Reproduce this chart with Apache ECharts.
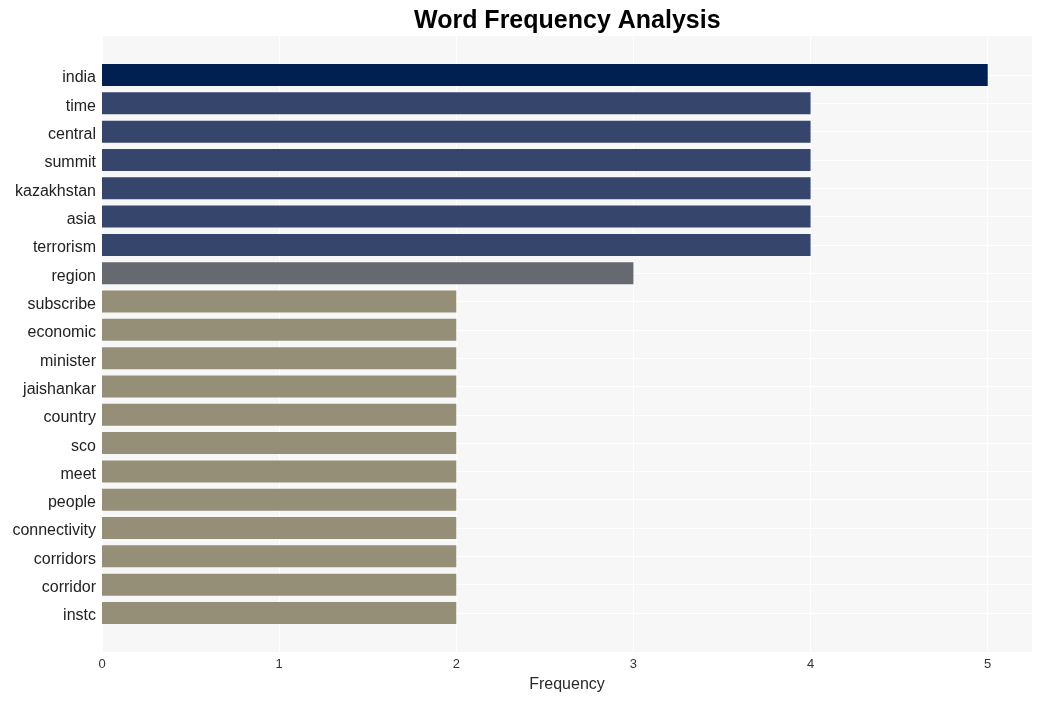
<!DOCTYPE html>
<html>
<head>
<meta charset="utf-8">
<script src="https://cdn.jsdelivr.net/npm/echarts@6/dist/echarts.min.js"></script>
<style>html,body{margin:0;padding:0;background:#fff}#c{width:1041px;height:701px}</style>
</head>
<body>
<div id="c"></div>
<script>
var categories = ["india","time","central","summit","kazakhstan","asia","terrorism","region","subscribe","economic","minister","jaishankar","country","sco","meet","people","connectivity","corridors","corridor","instc"];
var values = [5,4,4,4,4,4,4,3,2,2,2,2,2,2,2,2,2,2,2,2];
var xTicks = [0,1,2,3,4,5];
var colorByValue = {5:"#002051",4:"#35456c",3:"#676970",2:"#958f78"};

var chart = echarts.init(document.getElementById('c'));
chart.setOption({
  animation: false,
  title: {
    text: "Word Frequency Analysis",
    left: 409, top: 4,
    textStyle: {fontFamily: "Liberation Sans, Arial, sans-serif", fontSize: 25, fontWeight: "bold", color: "#000"}
  },
  grid: [
    {left: 102, right: 9, top: 36, bottom: 49, show: true, backgroundColor: "#f7f7f7", borderWidth: 0, containLabel: false},
    {left: 102, right: 9, top: 75, bottom: 88, containLabel: false}
  ],
  xAxis: [
    {gridIndex: 0, type: "value", min: 0, max: 5.25, interval: 1,
     axisLine: {show: false}, axisTick: {show: false},
     splitLine: {show: true, lineStyle: {color: "#ffffff", width: 1}},
     axisLabel: {color: "#333", fontSize: 13, margin: 6, fontFamily: "Liberation Sans, Arial, sans-serif",
       formatter: function(v){ return xTicks.indexOf(v) >= 0 ? String(v) : ""; }},
     name: "Frequency", nameLocation: "middle", nameGap: 25,
     nameTextStyle: {color: "#2a2a2a", fontSize: 16, fontFamily: "Liberation Sans, Arial, sans-serif"}},
    {gridIndex: 1, type: "value", min: 0, max: 5.25, interval: 1, show: false,
     splitLine: {show: false}}
  ],
  yAxis: [
    {gridIndex: 0, type: "value", show: false, splitLine: {show: false}},
    {gridIndex: 1, type: "category", data: categories, inverse: true, boundaryGap: false,
     axisLine: {show: false}, axisTick: {show: false},
     splitLine: {show: true, lineStyle: {color: "#ffffff", width: 1}},
     axisLabel: {margin: 6,
       formatter: function(v){ return "{a|" + v + "}"; },
       rich: {a: {color: "#222", fontSize: 16, padding: [6, 0, 0, 0], fontFamily: "Liberation Sans, Arial, sans-serif"}}}}
  ],
  series: [{
    type: "bar", xAxisIndex: 1, yAxisIndex: 1,
    data: values, barWidth: 22,
    itemStyle: {color: function(p){ return colorByValue[p.value]; }}
  }]
});
</script>
</body>
</html>
